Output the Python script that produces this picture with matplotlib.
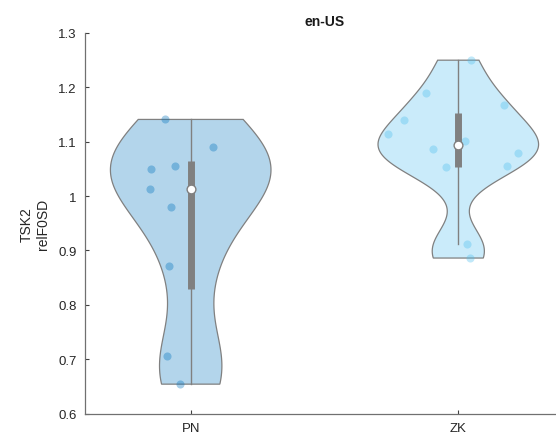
import numpy as np
import matplotlib
matplotlib.use("Agg")
import matplotlib.pyplot as plt

plt.rcParams['font.family'] = ['Liberation Sans', 'DejaVu Sans']

groups = ["PN", "ZK"]
pn_values = [1.141, 1.091, 1.050, 1.056, 1.013, 0.980, 0.871, 0.706, 0.654]
pn_jitter = [-0.096, 0.082, -0.147, -0.059, -0.153, -0.075, -0.080, -0.087, -0.040]
zk_values = [1.250, 1.189, 1.167, 1.140, 1.114, 1.102, 1.087, 1.080, 1.053, 1.055, 0.911, 0.886]
zk_jitter = [0.047, -0.121, 0.170, -0.202, -0.262, 0.026, -0.093, 0.223, -0.047, 0.183, 0.034, 0.044]
yticks = [0.6, 0.7, 0.8, 0.9, 1.0, 1.1, 1.2, 1.3]
yticklabels = ["0.6", "0.7", "0.8", "0.9", "1", "1.1", "1.2", "1.3"]

base_colors = [(0.0, 0.447, 0.741), (0.301, 0.745, 0.933)]
violin_width = 0.3


def kde(data, grid):
    # gaussian kernel, silverman bandwidth like ksdensity
    data = np.asarray(data)
    n = len(data)
    sig = np.median(np.abs(data - np.median(data))) / 0.6745
    bw = sig * (4 / (3 * n)) ** 0.2
    z = (grid[:, None] - data[None, :]) / bw
    return np.exp(-0.5 * z ** 2).sum(axis=1) / (n * bw * np.sqrt(2 * np.pi))


def blend(c, a):
    return tuple(1 - a * (1 - v) for v in c)


fig = plt.figure(figsize=(5.56, 4.39), dpi=100)
# axes runs a bit past the right edge of the figure (cropped like the original)
ax = fig.add_axes([85 / 556, 24.5 / 439, 479 / 556, 380.5 / 439])

for i, (vals, jit) in enumerate([(pn_values, pn_jitter), (zk_values, zk_jitter)]):
    pos = i + 1
    vals = np.asarray(vals)
    grid = np.linspace(vals.min(), vals.max(), 200)
    dens = kde(vals, grid)
    dens = dens / dens.max() * violin_width
    xs = np.concatenate([pos + dens, pos - dens[::-1]])
    ys = np.concatenate([grid, grid[::-1]])
    ax.fill(xs, ys, facecolor=blend(base_colors[i], 0.3), edgecolor='#808080', linewidth=0.9, zorder=1)

    ax.scatter(pos + np.asarray(jit), vals, s=34, color=base_colors[i], alpha=0.35,
               linewidths=0, zorder=2)

    q1, med, q3 = np.percentile(vals, [25, 50, 75], method='hazen')
    iqr = q3 - q1
    lo = vals[vals >= q1 - 1.5 * iqr].min()
    hi = vals[vals <= q3 + 1.5 * iqr].max()
    ax.plot([pos, pos], [lo, hi], color='#808080', linewidth=1, zorder=3)
    ax.plot([pos, pos], [q1, q3], color='#808080', linewidth=5, solid_capstyle='butt', zorder=4)
    ax.scatter([pos], [med], s=40, color='white', edgecolors='#808080', linewidths=1, zorder=5)

ax.set_xlim(0.605, 2.395)
ax.set_ylim(0.6, 1.3)
ax.set_xticks([1, 2])
ax.set_xticklabels(groups)
ax.set_yticks(yticks)
ax.set_yticklabels(yticklabels)
ax.tick_params(direction='in', length=3, width=0.8, colors='#404040', labelsize=9.5, labelcolor='#262626', pad=6)
for s in ['top', 'right']:
    ax.spines[s].set_visible(False)
for s in ['left', 'bottom']:
    ax.spines[s].set_color('#707070')
    ax.spines[s].set_linewidth(0.9)

ax.set_ylabel("TSK2\nrelF0SD", fontsize=10, color='#262626', labelpad=6)
ax.set_title("en-US", fontsize=10, fontweight='bold', color='#1a1a1a', pad=6)

fig.savefig("out.png", dpi=100)
